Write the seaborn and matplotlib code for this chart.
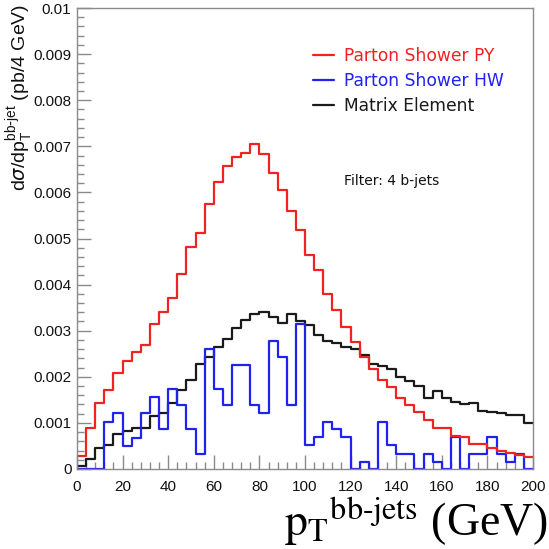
import numpy as np
import pandas as pd
import matplotlib
matplotlib.use("Agg")
import matplotlib.pyplot as plt
import seaborn as sns
from matplotlib.lines import Line2D
from matplotlib.ticker import MultipleLocator, FixedLocator, FixedFormatter

# ---- data (pb / 4 GeV), 50 bins of 4 GeV from 0 to 200 ----
bin_edges = list(range(0, 204, 4))

parton_shower_py = [
    0.00029, 0.00090, 0.00143, 0.00171, 0.00208, 0.00234, 0.00254, 0.00270, 0.00315, 0.00340,
    0.00372, 0.00423, 0.00481, 0.00513, 0.00575, 0.00623, 0.00658, 0.00676, 0.00686, 0.00705,
    0.00683, 0.00643, 0.00605, 0.00560, 0.00518, 0.00464, 0.00432, 0.00379, 0.00345, 0.00309,
    0.00276, 0.00244, 0.00216, 0.00194, 0.00177, 0.00155, 0.00139, 0.00124, 0.00106, 0.00088,
    0.00089, 0.00072, 0.00070, 0.00054, 0.00054, 0.00045, 0.00038, 0.00034, 0.00030, 0.00027,
]
parton_shower_hw = [
    0.0, 0.0, 0.0, 0.00103, 0.00121, 0.00050, 0.00068, 0.00121, 0.00157, 0.00086,
    0.00173, 0.00139, 0.00086, 0.00033, 0.00261, 0.00174, 0.00139, 0.00226, 0.00226, 0.00139,
    0.00121, 0.00278, 0.00244, 0.00139, 0.00314, 0.00052, 0.00070, 0.00103, 0.00087, 0.00069,
    0.0, 0.00016, 0.0, 0.00103, 0.00051, 0.00033, 0.00033, 0.0, 0.00033, 0.00016,
    0.0, 0.00069, 0.0, 0.00033, 0.00033, 0.00069, 0.00033, 0.00015, 0.00033, 0.0,
]
matrix_element = [
    0.00007, 0.00022, 0.00045, 0.00052, 0.00077, 0.00082, 0.00088, 0.00089, 0.00115, 0.00121,
    0.00144, 0.00171, 0.00192, 0.00228, 0.00242, 0.00265, 0.00283, 0.00305, 0.00323, 0.00336,
    0.00341, 0.00329, 0.00316, 0.00337, 0.00322, 0.00312, 0.00291, 0.00278, 0.00273, 0.00264,
    0.00260, 0.00247, 0.00227, 0.00224, 0.00217, 0.00199, 0.00191, 0.00181, 0.00155, 0.00169,
    0.00155, 0.00145, 0.00141, 0.00143, 0.00126, 0.00123, 0.00121, 0.00117, 0.00117, 0.00099,
]
series_names = ["Parton Shower PY", "Parton Shower HW", "Matrix Element"]
series_colors = ["#f22222", "#2222ee", "#1a1a1a"]
y_tick_values = [0, 0.001, 0.002, 0.003, 0.004, 0.005, 0.006, 0.007, 0.008, 0.009, 0.01]
y_tick_labels = ["0", "0.001", "0.002", "0.003", "0.004", "0.005", "0.006", "0.007",
                 "0.008", "0.009", "0.01"]
x_tick_values = list(range(0, 220, 20))

# ---- long table for seaborn ----
centers = [(a + b) / 2 for a, b in zip(bin_edges[:-1], bin_edges[1:])]
frames = []
for name, vals in zip(series_names, [parton_shower_py, parton_shower_hw, matrix_element]):
    frames.append(pd.DataFrame({"pt": centers, "w": vals, "model": name}))
df = pd.concat(frames, ignore_index=True)

sns.set_style("white")
plt.rcParams["font.family"] = ["Liberation Sans", "DejaVu Sans"]

fig = plt.figure(figsize=(5.49, 5.49), dpi=100)
ax = fig.add_axes([77 / 549, 1 - 469 / 549, (533 - 77) / 549, (469 - 8) / 549])

sns.histplot(data=df, x="pt", weights="w", hue="model", hue_order=series_names,
             palette=series_colors, bins=bin_edges, element="step", fill=False,
             linewidth=1.6, legend=False, ax=ax)

ax.set_xlim(0, 200)
ax.set_ylim(0, 0.01)
ax.set_xlabel("")
ax.set_ylabel("")

frame_col = "#8a8a8a"
for s in ax.spines.values():
    s.set_color(frame_col)
    s.set_linewidth(1.0)
    s.set_visible(True)

ax.xaxis.set_major_locator(FixedLocator(x_tick_values))
ax.xaxis.set_minor_locator(MultipleLocator(4))
ax.yaxis.set_major_locator(FixedLocator(y_tick_values))
ax.yaxis.set_major_formatter(FixedFormatter(y_tick_labels))
ax.yaxis.set_minor_locator(MultipleLocator(0.0002))
ax.tick_params(axis="both", which="both", direction="in", color=frame_col,
               labelsize=11, labelcolor="#111111")
ax.tick_params(axis="both", which="major", length=10, width=1.0)
ax.tick_params(axis="both", which="minor", length=5, width=1.0)
ax.tick_params(axis="x", which="both", bottom=True, top=False, pad=8)
ax.tick_params(axis="y", which="both", left=True, right=False, pad=4)

# legend
handles = [Line2D([0], [0], color=c, lw=1.6) for c in series_colors]
leg = ax.legend(handles, series_names, frameon=False, loc="upper left",
                bbox_to_anchor=(0.484, 0.948), handlelength=1.2, handletextpad=0.6,
                labelspacing=0.40, prop={"family": "DejaVu Sans", "size": 12.3},
                labelcolor=series_colors)

ax.text(117.0, 0.00625, "Filter: 4 b-jets", fontsize=10,
        family="DejaVu Sans", color="#111111", va="center", ha="left")

# axis titles
fig.text(0.998, 1 - 536 / 549,
         r"${\mathrm{p}_\mathrm{T}}^{\mathrm{bb\text{-}jets}}$ (GeV)",
         ha="right", va="baseline", fontsize=33, family="Liberation Serif",
         math_fontfamily="stix", color="black")
fig.text(20 / 549, 1 - 4 / 549,
         r"d$\sigma$/dp$_\mathregular{T}^\mathregular{bb\text{-}jet}$ (pb/4 GeV)",
         rotation=90, ha="center", va="top", fontsize=14, color="#111111")

fig.savefig("out.png", dpi=100)
